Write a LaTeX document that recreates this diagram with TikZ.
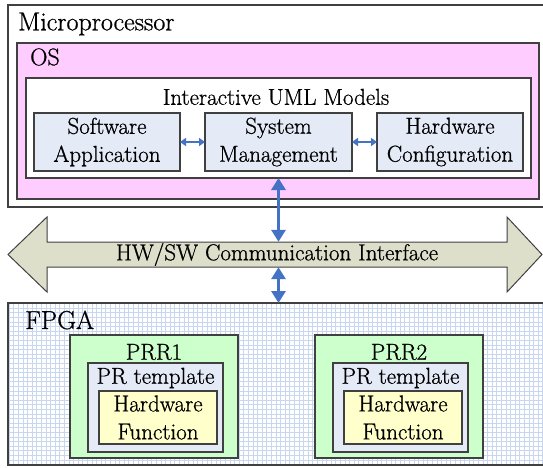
\documentclass[tikz,border=0pt]{standalone}
\usepackage{fontspec}
\setmainfont{Latin Modern Roman}[FakeBold=0.8]
\usetikzlibrary{arrows.meta}
\definecolor{edgegray}{HTML}{404040}
\definecolor{ospink}{HTML}{FFCCFF}
\definecolor{modblue}{HTML}{E4EAF6}
\definecolor{prrgreen}{HTML}{CCFFCC}
\definecolor{hwyellow}{HTML}{FFFFCC}
\definecolor{busfill}{HTML}{DDDFCB}
\definecolor{linkblue}{HTML}{4472C4}
\definecolor{gridblue}{HTML}{C8D6F0}
\tikzset{
  blk/.style={draw=edgegray, line width=1.1pt, anchor=north west, inner sep=0pt, outer sep=0pt},
  txt/.style={font=\fontsize{23}{28}\selectfont, align=center, text=black},
  bigtitle/.style={font=\fontsize{26}{30}\selectfont, anchor=west, inner sep=0pt},
  linkarrow/.style={draw=linkblue, line width=1.8pt, {Triangle[width=8pt,length=6pt]}-{Triangle[width=8pt,length=6pt]}},
  busarrow/.style={draw=linkblue, line width=3pt, {Triangle[width=14pt,length=12pt]}-{Triangle[width=14pt,length=12pt]}},
}
\begin{document}
\begin{tikzpicture}[x=1pt,y=-1pt]
\useasboundingbox (0,0) rectangle (543,468);

% Microprocessor side
\node[blk, fill=white, minimum width=537pt, minimum height=202pt] (mp) at (8,5) {};
\node[bigtitle] (mptitle) at (18,24) {Microprocessor};
\node[blk, fill=ospink, minimum width=522pt, minimum height=156pt] (os) at (17,43) {};
\node[bigtitle, font=\fontsize{24}{28}\selectfont] (ostitle) at (30,57) {OS};
\node[blk, fill=white, minimum width=505pt, minimum height=100pt] (uml) at (26,78) {};
\node[txt] (umltitle) at (276,97) {Interactive UML Models};
\node[blk, txt, fill=modblue, minimum width=146pt, minimum height=58pt] (sw) at (34,113) {Software\\Application};
\node[blk, txt, fill=modblue, minimum width=147pt, minimum height=58pt] (sm) at (205,113) {System\\Management};
\node[blk, txt, fill=modblue, minimum width=146pt, minimum height=58pt] (hc) at (377,113) {Hardware\\Configuration};
\draw[linkarrow] (sw.east) -- (sm.west);
\draw[linkarrow] (sm.east) -- (hc.west);

% HW/SW communication interface
\draw[draw=edgegray, line width=1pt, fill=busfill, line join=miter]
  (8,254.5) -- (47,217) -- (47,242) -- (507,242) -- (507,217) -- (542,254.5)
  -- (507,292) -- (507,267) -- (47,267) -- (47,292) -- cycle;
\node[txt, inner sep=0pt, minimum width=460pt, minimum height=25pt] (bus) at (277,254.5) {HW/SW Communication Interface};

% FPGA side
\node[blk, fill=white, minimum width=537pt, minimum height=162pt] (fpga) at (8,303) {};
\begin{scope}
  \clip (fpga.north west) rectangle (fpga.south east);
  \draw[gridblue, line width=1pt, step=4.6pt] (fpga.north west) grid (fpga.south east);
\end{scope}
\draw[edgegray, line width=1.1pt] (fpga.north west) rectangle (fpga.south east);
\node[bigtitle] (fpgatitle) at (25,320) {FPGA};

\node[blk, fill=prrgreen, minimum width=168pt, minimum height=123pt] (prr1) at (70,335) {};
\node[txt] (prr1title) at (prr1.north) [yshift=-17pt] {PRR1};
\node[blk, fill=modblue, minimum width=135pt, minimum height=89pt] (prt1) at (88,363) {};
\node[txt] (prt1title) at (prt1.north) [yshift=-15pt] {PR template};
\node[blk, txt, fill=hwyellow, minimum width=118pt, minimum height=53pt] (hf1) at (99,391) {Hardware\\Function};

\node[blk, fill=prrgreen, minimum width=168pt, minimum height=123pt] (prr2) at (315,335) {};
\node[txt] (prr2title) at (prr2.north) [yshift=-17pt] {PRR2};
\node[blk, fill=modblue, minimum width=135pt, minimum height=89pt] (prt2) at (333,363) {};
\node[txt] (prt2title) at (prt2.north) [yshift=-15pt] {PR template};
\node[blk, txt, fill=hwyellow, minimum width=118pt, minimum height=53pt] (hf2) at (344,391) {Hardware\\Function};

% Vertical links through the interface
\draw[busarrow] (sm.south |- uml.south) -- (sm.south |- bus.north);
\draw[busarrow] (sm.south |- bus.south) -- (sm.south |- fpga.north);
\end{tikzpicture}
\end{document}
